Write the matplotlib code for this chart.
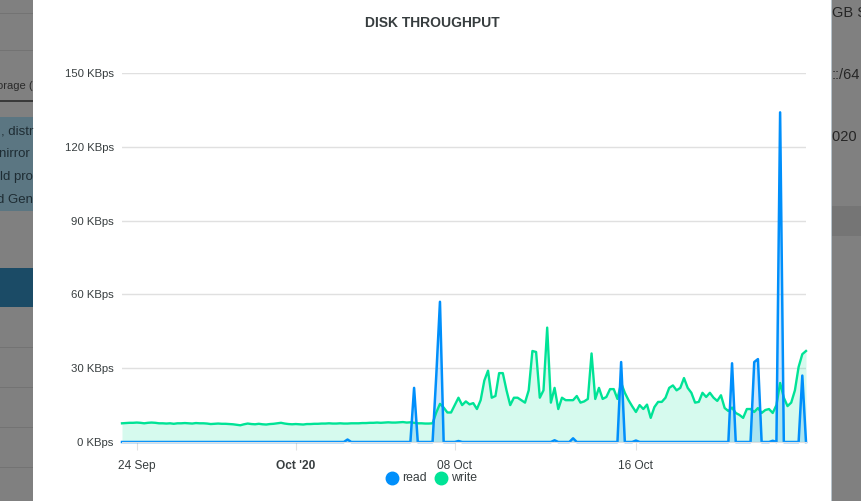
import pandas as pd
import matplotlib
matplotlib.use("Agg")
import matplotlib.pyplot as plt
import matplotlib.dates as mdates
from matplotlib.patches import Rectangle
from matplotlib.lines import Line2D

plt.rcParams['font.family'] = ['Liberation Sans', 'DejaVu Sans']

# Zeitachse: Messpunkte alle ~4 Stunden
t_start = "2020-09-23 08:00"
t_end = "2020-10-23 12:00"

write_kbps = [
    7.6, 7.7, 7.8, 7.8, 7.9, 7.8, 7.6, 7.8, 7.9, 7.8,
    7.6, 7.6, 7.5, 7.6, 7.4, 7.6, 7.6, 7.7, 7.6, 7.5,
    7.7, 7.6, 7.6, 7.5, 7.3, 7.4, 7.5, 7.4, 7.4, 7.3,
    7.2, 7.0, 6.8, 7.2, 7.5, 7.3, 7.2, 7.4, 7.2, 7.1,
    7.3, 7.4, 7.6, 7.8, 7.5, 7.3, 7.2, 7.3, 7.2, 7.1,
    7.3, 7.3, 7.4, 7.4, 7.5, 7.5, 7.6, 7.5, 7.5, 7.6,
    7.5, 7.5, 7.6, 7.6, 7.6, 7.7, 7.7, 7.8, 7.8, 7.9,
    7.8, 7.9, 8.0, 7.9, 7.9, 8.0, 8.1, 7.9, 8.0, 7.8,
    7.6, 7.6, 7.5, 7.5, 7.6, 12, 15.5, 14, 12, 12,
    15, 18, 15, 16.5, 15.3, 15.8, 13.4, 17, 25, 29,
    18, 18.7, 28, 28, 21, 15, 18, 18, 17, 16,
    21, 37, 36.6, 18, 21, 46.5, 16, 22, 13.4, 18,
    17, 17, 17, 18.7, 16, 16.5, 17.5, 36, 17.5, 22,
    17.5, 18.3, 21.5, 21.5, 17.5, 24, 20, 17, 14.5, 12.2,
    15, 13.4, 15.2, 9.8, 14.2, 16.3, 16.3, 18, 22, 23,
    21, 22, 26, 22, 20, 16, 16.3, 20, 18.3, 20,
    18, 16.7, 19, 13.8, 12.6, 14, 11.8, 11, 9.8, 13.4,
    13.4, 12.2, 13.8, 11.8, 13, 13.4, 11.8, 15, 24, 18,
    14.6, 16, 21, 30.5, 35.7, 37,
]

read_kbps = [
    0, 0, 0, 0, 0, 0, 0, 0, 0, 0,
    0, 0, 0, 0, 0, 0, 0, 0, 0, 0,
    0, 0, 0, 0, 0, 0, 0, 0, 0, 0,
    0, 0, 0, 0, 0, 0, 0, 0, 0, 0,
    0, 0, 0, 0, 0, 0, 0, 0, 0, 0,
    0, 0, 0, 0, 0, 0, 0, 0, 0, 0,
    0, 1.0, 0, 0, 0, 0, 0, 0, 0, 0,
    0, 0, 0, 0, 0, 0, 0, 0, 0, 22,
    0, 0, 0, 0, 0, 27, 57, 0, 0, 0,
    0, 0.4, 0, 0, 0, 0, 0, 0, 0, 0,
    0, 0, 0, 0, 0, 0, 0, 0, 0, 0,
    0, 0, 0, 0, 0, 0, 0, 0.7, 0, 0,
    0, 0, 1.5, 0, 0, 0, 0, 0, 0, 0,
    0, 0, 0, 0, 0, 32.5, 0, 0, 0, 0.6,
    0, 0, 0, 0, 0, 0, 0, 0, 0, 0,
    0, 0, 0, 0, 0, 0, 0, 0, 0, 0,
    0, 0, 0, 0, 0, 32, 0, 0, 0, 0,
    0, 32.5, 33.7, 0, 0, 0, 0.5, 0, 134, 0,
    0, 0, 0, 0, 27, 0,
]

y_ticks = [0, 30, 60, 90, 120, 150]
x_ticks = ["2020-09-24", "2020-10-01", "2020-10-08", "2020-10-16"]
x_labels = ["24 Sep", "Oct '20", "08 Oct", "16 Oct"]

READ_C = "#008FFB"
WRITE_C = "#00E396"
TEXT_C = "#373d3f"

times = pd.date_range(t_start, t_end, periods=len(write_kbps))

W, H = 862, 501
fig = plt.figure(figsize=(W / 100, H / 100), dpi=100)
fig.patch.set_facecolor("#808080")


def px_rect(x0, y0, x1, y1, color, z=0):
    fig.patches.append(Rectangle((x0 / W, 1 - y1 / H), (x1 - x0) / W, (y1 - y0) / H,
                                 transform=fig.transFigure, facecolor=color,
                                 edgecolor="none", zorder=z))


# Hintergrund (abgedunkelte Seite hinter dem Dialog)
for yy in [13, 50, 347, 387, 427, 467]:
    px_rect(0, yy, 33, yy + 1, "#737373")
px_rect(0, 100, 33, 102, "#3a3a3a")
px_rect(0, 117, 33, 211, "#5b7682")
px_rect(0, 268, 33, 307, "#1b4b66")
px_rect(831, 206, 862, 236, "#757575")
for txt, yy in [(", distr", 134), ("nirror ", 157), ("ld pro", 180), ("d Gen", 203)]:
    fig.text(33 / W, 1 - yy / H, txt, ha="right", fontsize=9.5, color="#1e2c33")
fig.text(33 / W, 1 - 89 / H, "orage (", ha="right", fontsize=8, color="#2a2a2a")
for txt, yy in [("GB S", 17), ("::/64", 79), ("020 (", 141)]:
    fig.text(832 / W, 1 - yy / H, txt, ha="left", fontsize=10.5, color="#262626")

# Dialog
px_rect(33, 0, 831, H, "white", z=1)
px_rect(831, 0, 832, H, "#b8c4cc", z=1)

ax = fig.add_axes([122 / W, 1 - 442 / H, 684 / W, 369 / H])
ax.set_zorder(2)
ax.set_facecolor("none")

ax.fill_between(times, write_kbps, 0, color=WRITE_C, alpha=0.16, lw=0)
ax.plot(times, write_kbps, color=WRITE_C, lw=1.7, clip_on=False)
ax.fill_between(times, read_kbps, 0, color=READ_C, alpha=0.2, lw=0)
ax.plot(times, read_kbps, color=READ_C, lw=1.8, clip_on=False)

ax.set_xlim(times[0], times[-1])
ax.set_ylim(0, 150)
ax.set_yticks(y_ticks)
ax.set_yticklabels([f"{v} KBps" for v in y_ticks])
ax.grid(axis="y", color="#e0e0e0", lw=1)
ax.set_axisbelow(True)

ax.set_xticks([mdates.date2num(pd.Timestamp(d)) for d in x_ticks])
ax.set_xticklabels(x_labels)
for lbl in ax.get_xticklabels():
    if lbl.get_text() == "Oct '20":
        lbl.set_fontweight("bold")

for side in ["top", "right", "left"]:
    ax.spines[side].set_visible(False)
ax.spines["bottom"].set_color("#e0e0e0")
ax.tick_params(axis="y", length=0, pad=6, labelsize=8.2, labelcolor=TEXT_C)
ax.tick_params(axis="x", length=6, color="#e0e0e0", pad=7, labelsize=8.6, labelcolor=TEXT_C)

fig.text(432 / W, 1 - 23 / H, "DISK THROUGHPUT", ha="center", va="center",
         fontsize=10, fontweight="bold", color=TEXT_C, zorder=3)

# Legende
leg_items = [("read", READ_C, 392), ("write", WRITE_C, 441)]
for name, col, xx in leg_items:
    fig.add_artist(Line2D([xx / W], [1 - 478 / H], marker="o", markersize=9, color=col,
                          transform=fig.transFigure, zorder=3))
    fig.text((xx + 10) / W, 1 - 478 / H, name, ha="left", va="center",
             fontsize=8.8, color=TEXT_C, zorder=3)

fig.savefig("out.png", dpi=100)
